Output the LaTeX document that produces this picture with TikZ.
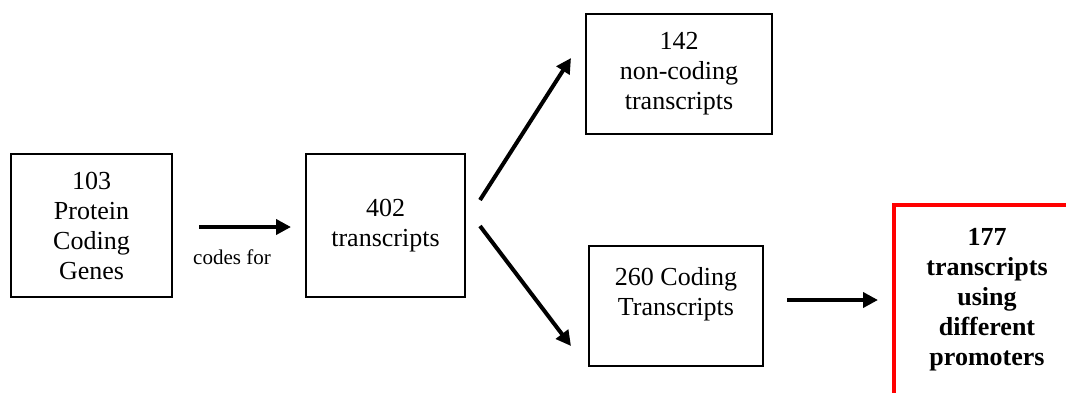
\documentclass[tikz,border=0pt]{standalone}
\usepackage{fontspec}
\setmainfont{Liberation Serif}
\usepackage{tikz}
\usetikzlibrary{arrows.meta,positioning,calc}

\begin{document}
\begin{tikzpicture}[x=1pt,y=-1pt,
  box/.style={draw=black,line width=2pt,align=center,inner sep=0pt,
    font=\fontsize{26}{30}\selectfont},
  redbox/.style={box,draw=red,line width=4pt,font=\fontsize{26}{30}\selectfont\bfseries},
  arr/.style={line width=4pt,-{Triangle[length=15pt,width=15pt]}}]
\useasboundingbox (0,0) rectangle (1066,392);
\clip (0,0) rectangle (1066,392);

% boxes
\node[box,minimum width=161pt,minimum height=143pt] (genes) at (91.5,225.5) {103\\Protein\\Coding\\Genes};
\node[box,minimum width=159pt,minimum height=143pt] (trans) at (385.5,225.5) {402\\transcripts};
\node[box,minimum width=186pt,minimum height=120pt] (noncod) at (679,74) {142\\non-coding\\transcripts};
\node[box,minimum width=174pt,minimum height=120pt] (coding) at (676,306) {260 Coding\\Transcripts\\~};
\node[redbox,anchor=north west,minimum width=186pt,minimum height=214pt] (promo) at (892,203)
  {177\\transcripts\\using\\different\\promoters\\~};

% arrows
\draw[arr] ([shift={(26,1.5)}]genes.east) -- ([shift={(-14,1.5)}]trans.west);
\node[font=\fontsize{21}{24}\selectfont] (codes) at (232,257) {codes for};
\draw[arr] ([shift={(14,-25.5)}]trans.east) -- ([shift={(-14,-16)}]noncod.west);
\draw[arr] ([shift={(14,0.5)}]trans.east) -- ([shift={(-17,-21)}]coding.south west);
\draw[arr] ([shift={(23,-6)}]coding.east) -- ($(coding.east -| promo.west)+(-14,-6)$);
\end{tikzpicture}
\end{document}
